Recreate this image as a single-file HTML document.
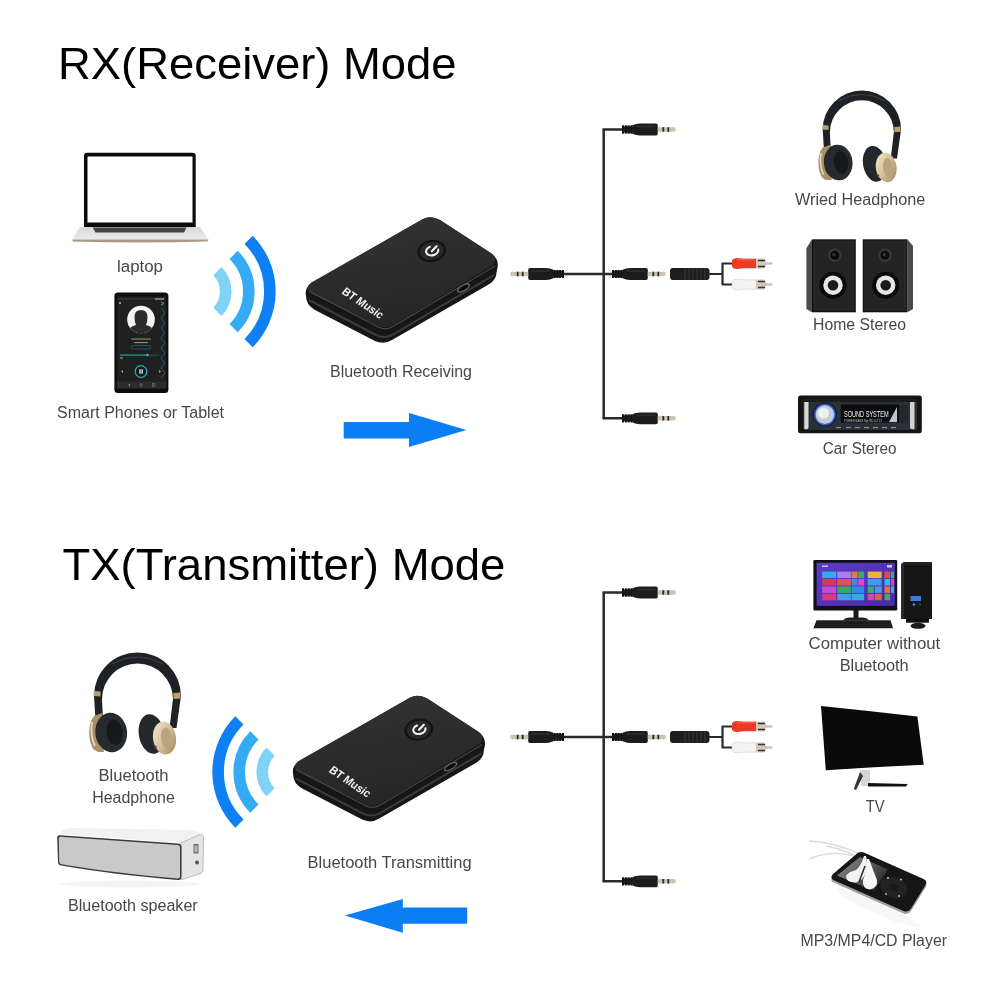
<!DOCTYPE html>
<html><head><meta charset="utf-8">
<style>
html,body{margin:0;padding:0;background:#fff;width:1002px;height:1002px;overflow:hidden}
svg{display:block;will-change:transform}
text{font-family:"Liberation Sans",sans-serif}
.t{font-size:45px;fill:#000}
.l{font-size:16px;fill:#474747}
</style></head><body>
<svg width="1002" height="1002" viewBox="0 0 1002 1002">
<defs>
  <!-- plug pointing right, origin at left of ribs, centre line y=0 -->
  <g id="plugR">
    <path d="M0 -3.9 H2 V3.9 H0 Z M2.8 -3.9 H4.8 V3.9 H2.8 Z M5.6 -3.9 H7.6 V3.9 H5.6 Z M8.4 -3.9 H10.6 V3.9 H8.4 Z" fill="#141414"/>
    <rect x="0" y="-3" width="11" height="6" fill="#262626"/>
    <path d="M1 -3.9 V3.9 M3.8 -3.9 V3.9 M6.6 -3.9 V3.9 M9.4 -3.9 V3.9" stroke="#121212" stroke-width="1.8"/>
    <path d="M10.5 -4.2 Q14 -5.9 18 -5.9 H34 Q35.8 -5.9 35.8 -4 V4 Q35.8 5.9 34 5.9 H18 Q14 5.9 10.5 4.2 Z" fill="#1c1c1c"/>
    <path d="M15 -3 H33" stroke="#333" stroke-width="1.2"/>
    <path d="M35.8 -2.2 H52 Q53.8 -2.2 53.8 0 Q53.8 2.2 52 2.2 H35.8 Z" fill="#cbc3b4"/>
    <path d="M41.3 -2.2v4.4M46.3 -2.2v4.4" stroke="#2a2a2a" stroke-width="1.8"/>
  </g>
  <g id="cables">
    <path d="M603.7 129.5 V418.3" stroke="#2a2a2a" stroke-width="2.5" fill="none"/>
    <path d="M602.5 129.5 H623 M602.5 418.3 H623 M564 274 H612" stroke="#2a2a2a" stroke-width="2.5" fill="none"/>
    <use href="#plugR" transform="translate(622,129.5)"/>
    <use href="#plugR" transform="translate(622,418.3)"/>
    <use href="#plugR" transform="translate(612,274)"/>
    <use href="#plugR" transform="translate(564,274) scale(-1,1)"/>
    <!-- female jack -->
    <rect x="670" y="268" width="39.5" height="12" rx="3" fill="#1e1e1e"/>
    <path d="M685 268.5v11M689 268.5v11M693 268.5v11M697 268.5v11M701 268.5v11M705 268.5v11" stroke="#353535" stroke-width="1.2"/>
    <path d="M709 274 H722.5 M722.5 263 V285 M722 263.5 H733 M722 284.5 H733" stroke="#2a2a2a" stroke-width="2.2" fill="none"/>
    <!-- red rca -->
    <path d="M732 260.5 Q733 258 737 258 L744 258.8 H756 V268.2 H744 L737 269 Q733 269 732 266.5 Z" fill="#ee3a22"/>
    <path d="M737 258.6 H755 V260.5 H737 Z" fill="#ff6a50" opacity="0.6"/>
    <path d="M756 258.5 H764 Q766 260 766 263.5 Q766 267 764 268.5 H756 Z" fill="#cfcac0"/>
    <path d="M758 260.5 H765 M758 266.5 H765" stroke="#3a2a20" stroke-width="1.3"/>
    <rect x="764" y="262.3" width="8.5" height="2.4" rx="1" fill="#c8c3b8"/>
    <!-- white rca -->
    <path d="M732 281.5 Q733 279 737 279 L744 279.8 H756 V289.2 H744 L737 290 Q733 290 732 287.5 Z" fill="#f2f2f2" stroke="#d0d0d0" stroke-width="0.6"/>
    <path d="M756 279.5 H764 Q766 281 766 284.5 Q766 288 764 289.5 H756 Z" fill="#cfcac0"/>
    <path d="M758 281.5 H765 M758 287.5 H765" stroke="#5a2a20" stroke-width="1.3"/>
    <rect x="764" y="283.3" width="8.5" height="2.4" rx="1" fill="#c8c3b8"/>
  </g>
  <g id="hphone">
    <linearGradient id="goldg" x1="0" y1="0" x2="1" y2="1"><stop offset="0" stop-color="#f4ecd8"/><stop offset="0.5" stop-color="#d4c098"/><stop offset="1" stop-color="#9c8458"/></linearGradient>
    <path d="M95.5 720 L94 696 A43.5 43.5 0 0 1 181 696 L176.5 728 H169.5 L173 699 A35.5 35.5 0 0 0 102 699 L103 720 Z" fill="#1e2226"/>
    <path d="M112 664 Q137.5 650 163 664" stroke="#40454a" stroke-width="1" fill="none"/>
    <path d="M93.8 691 L100.6 691.5 L100.4 696.5 L93.6 696 Z" fill="#b8a070"/>
    <path d="M173.4 693 L180.4 692.5 L180.6 698.5 L173.6 699 Z" fill="#b8a070"/>
    <path d="M94 716 Q88 723 89.5 738 Q91 750 98 752 L104 752 L102 713 Z" fill="#a89068"/>
    <path d="M92 722 Q90 736 95 746" stroke="#e8dcc0" stroke-width="1.8" fill="none"/>
    <ellipse cx="111.2" cy="732.5" rx="15.9" ry="19.8" transform="rotate(-6 111.2 732.5)" fill="#272b30"/>
    <ellipse cx="114.5" cy="732.3" rx="8" ry="12.8" transform="rotate(-6 114.5 732.3)" fill="#16191c"/>
    <ellipse cx="151.6" cy="734" rx="12.8" ry="20" transform="rotate(-10 151.6 734)" fill="#24282c"/>
    <ellipse cx="164.5" cy="738" rx="11.5" ry="16.5" transform="rotate(-8 164.5 738)" fill="url(#goldg)"/>
    <ellipse cx="166.5" cy="738" rx="5.5" ry="10.5" transform="rotate(-6 166.5 738)" fill="#b8a47e"/>
    <circle cx="155.5" cy="747" r="1.3" fill="#a02020"/>
  </g>
  <g id="btbox">
    <linearGradient id="topg" x1="0" y1="0" x2="0.3" y2="1">
      <stop offset="0" stop-color="#343434"/><stop offset="1" stop-color="#262626"/>
    </linearGradient>
    <path d="M306 296 Q304 286 314 282 L423 219 Q431 215 440 220 L492 254 Q500 260 497 270 L496 276 Q494 282 486 286 L392 340 Q384 345 375 341 L315 310 Q306 305 306 296 Z" fill="#161616"/>
    <path d="M309 300 L376 335 Q384 339 392 335 L494 275" stroke="#3c3c3c" stroke-width="2" fill="none"/>
    <path d="M308 290 Q307 284 314 281 L423 219 Q431 215 440 220 L491 253 Q498 258 493 265 L396 324 Q386 330 376 325 L316 296 Q309 293 308 290 Z" fill="url(#topg)"/>
    <path d="M309 291 L378 327 Q386 331 394 326 L495 266" stroke="#505050" stroke-width="1" fill="none"/>
    <ellipse cx="431.6" cy="251" rx="14.5" ry="11" transform="rotate(-10 431.6 251)" fill="#121212"/>
    <ellipse cx="431.6" cy="251" rx="12" ry="9" transform="rotate(-10 431.6 251)" fill="#2a2a2a"/>
    <path d="M429.8 246.9 A6.2 4.5 -15 1 0 438.3 249.6" stroke="#f4f4f4" stroke-width="2.1" fill="none" stroke-linecap="round"/>
    <path d="M431.8 251.2 L436.6 246.2" stroke="#f4f4f4" stroke-width="2.1" stroke-linecap="round"/>
    <ellipse cx="463.5" cy="288" rx="7.5" ry="3.2" transform="rotate(-31 463.5 288)" fill="#6a6a6a"/>
    <ellipse cx="463.5" cy="288" rx="6" ry="2" transform="rotate(-31 463.5 288)" fill="#0c0c0c"/>
    <text x="0" y="0" transform="translate(341,293) rotate(34) skewX(-6)" font-size="11.5" font-weight="bold" fill="#f4f4f4" textLength="47" lengthAdjust="spacingAndGlyphs">BT Music</text>
  </g>
</defs>

<!-- Titles -->
<text class="t" x="58" y="79" textLength="398.6" lengthAdjust="spacingAndGlyphs">RX(Receiver) Mode</text>
<text class="t" x="62.4" y="580.4" textLength="443" lengthAdjust="spacingAndGlyphs">TX(Transmitter) Mode</text>

<!-- ===== RX ===== -->
<!-- laptop -->
<path d="M84 227 V156 Q84 152.8 87 152.8 H192.7 Q195.7 152.8 195.7 156 V227 Z" fill="#0a0a0a"/>
<rect x="87.5" y="156.5" width="105" height="66" fill="#fff"/>
<linearGradient id="lapg" x1="0" y1="0" x2="0" y2="1"><stop offset="0" stop-color="#d8d8da"/><stop offset="1" stop-color="#ececee"/></linearGradient>
<path d="M80 227 H200 L208.5 239.5 H72 Z" fill="url(#lapg)"/>
<path d="M92.7 227.5 H186.5 L184 232.5 H95.5 Z" fill="#444446"/>
<path d="M72 239.5 H208.5 L207.5 241.5 Q140 243.5 73 241.5 Z" fill="#a89a82"/>
<text class="l" x="117" y="271.6" textLength="46" lengthAdjust="spacingAndGlyphs">laptop</text>

<!-- phone -->
<rect x="114.4" y="292.4" width="54" height="100.6" rx="3.5" fill="#0c0c0c"/>
<rect x="116.8" y="296.5" width="49.4" height="92" fill="#202020"/>
<rect x="118" y="298" width="47" height="2" fill="#2e2e2e"/>
<rect x="155" y="298.3" width="9" height="1.4" fill="#999"/>
<rect x="119" y="302" width="2" height="2" fill="#999"/>
<path d="M161 302 L164 303.5 L161 305" stroke="#999" stroke-width="0.8" fill="none"/>
<circle cx="141" cy="319.5" r="13.8" fill="#f6f6f6"/>
<clipPath id="avc"><circle cx="141" cy="319.5" r="13.8"/></clipPath>
<path clip-path="url(#avc)" d="M127 334 Q128 327 136 325 Q134.5 322 134.5 317 Q134.5 310 141 310 Q147.5 310 147.5 317 Q147.5 322 146 325 Q154 327 155 334 Z" fill="#2c2c2c"/>
<rect x="131" y="338.5" width="20" height="1.1" fill="#8c8c78"/>
<rect x="134" y="342" width="14" height="1.1" fill="#8c8c78"/>
<rect x="131.5" y="345.5" width="19" height="3.5" rx="1.7" fill="none" stroke="#1c6b78" stroke-width="0.7"/>
<rect x="120" y="354.5" width="27" height="1.2" fill="#1aa0b0"/>
<rect x="147" y="354.7" width="12" height="0.8" fill="#555"/>
<circle cx="147.5" cy="355" r="1.2" fill="#30d0e0"/>
<rect x="120" y="357.5" width="3" height="1" fill="#aaa"/>
<circle cx="141" cy="371.5" r="5.8" fill="#1a1a1a" stroke="#1fb0c0" stroke-width="1.3"/>
<rect x="139.3" y="369.3" width="1.4" height="4.4" fill="#e0e0e0"/>
<rect x="141.5" y="369.3" width="1.4" height="4.4" fill="#e0e0e0"/>
<path d="M121 371.5 L123 370 V373 Z M161 371.5 L159 370 V373 Z" fill="#9aa880"/>
<path d="M162 308 L164.5 313 L161.5 318 L164.5 323 L161.5 328 L164.5 333 L161 338 L165 343 L161 348 L165 353 L161 358 L165 363 L161 368 L165 373 L161 378" stroke="#1a6a78" stroke-width="1" fill="none" opacity="0.85"/>
<rect x="116.8" y="381.5" width="49.4" height="7" fill="#2c2c2c"/>
<path d="M128 385 L130 383.5 V386.5 Z" fill="#888"/>
<circle cx="141" cy="385" r="1.3" fill="none" stroke="#888" stroke-width="0.6"/>
<rect x="152.5" y="383.8" width="2.4" height="2.4" fill="none" stroke="#888" stroke-width="0.6"/>
<text class="l" x="57" y="418" textLength="167" lengthAdjust="spacingAndGlyphs">Smart Phones or Tablet</text>

<!-- arcs RX -->
<g fill="none" stroke-width="11.6">
  <path d="M217.4 271.1 A29.2 29.2 0 0 1 217.4 311.9" stroke="#7fd3f7"/>
  <path d="M233.6 254.9 A51.7 51.7 0 0 1 233.6 328.1" stroke="#35aaf5"/>
  <path d="M248.6 239.9 A73.2 73.2 0 0 1 248.6 343.1" stroke="#0d80f3"/>
</g>

<use href="#btbox"/>
<text class="l" x="330" y="376.6" textLength="142" lengthAdjust="spacingAndGlyphs">Bluetooth Receiving</text>
<path d="M343.7 421.9 H409 V412.9 L466.4 430 L409 447 V438.4 H343.7 Z" fill="#0b7ef4"/>

<use href="#cables"/>

<!-- wired headphone -->
<use href="#hphone" transform="matrix(0.901 0 0 0.901 738 -497.5)"/>
<text class="l" x="795" y="204.6" textLength="130.3" lengthAdjust="spacingAndGlyphs">Wried Headphone</text>

<!-- speakers -->
<g id="spkL">
  <path d="M806.4 248.3 L812 239.3 V312.3 L806.4 309 Z" fill="#4a4a4a"/>
  <rect x="812" y="239.3" width="43.8" height="73" fill="#141414"/>
  <rect x="814" y="241" width="40" height="69" fill="#242424" stroke="#2e2e2e" stroke-width="0.8"/>
  <circle cx="834.8" cy="255.2" r="6.6" fill="#3a3a3a"/>
  <circle cx="834.8" cy="255.2" r="4.6" fill="#0c0c0c"/>
  <circle cx="834" cy="254.5" r="1.5" fill="#3a3a3a"/>
  <circle cx="833" cy="285.2" r="16" fill="#242424"/>
  <circle cx="833" cy="285.2" r="13.5" fill="#0a0a0a"/>
  <circle cx="833" cy="285.2" r="9.7" fill="#e6e6e6"/>
  <circle cx="833" cy="285.2" r="5.3" fill="#1a1a1a"/>
</g>
<g>
  <path d="M907.4 239.3 L913 246 V309 L907.4 312.3 Z" fill="#4a4a4a"/>
  <rect x="862.7" y="239.3" width="44.7" height="73" fill="#141414"/>
  <rect x="864.7" y="241" width="40.7" height="69" fill="#242424" stroke="#2e2e2e" stroke-width="0.8"/>
  <circle cx="885" cy="255.2" r="6.6" fill="#3a3a3a"/>
  <circle cx="885" cy="255.2" r="4.6" fill="#0c0c0c"/>
  <circle cx="884.2" cy="254.5" r="1.5" fill="#3a3a3a"/>
  <circle cx="885.7" cy="285.2" r="16" fill="#242424"/>
  <circle cx="885.7" cy="285.2" r="13.5" fill="#0a0a0a"/>
  <circle cx="885.7" cy="285.2" r="9.7" fill="#e6e6e6"/>
  <circle cx="885.7" cy="285.2" r="5.3" fill="#1a1a1a"/>
</g>
<text class="l" x="813" y="329.8" textLength="93" lengthAdjust="spacingAndGlyphs">Home Stereo</text>

<!-- car stereo -->
<g>
  <rect x="798" y="395.6" width="123.8" height="37.6" rx="2.5" fill="#141414"/>
  <path d="M806 399.5 H914 Q917 400 917 404 V427 Q917 430 914 430 H806 Q803 430 803 427 V404 Q803 400 806 399.5 Z" fill="#2b3038"/>
  <path d="M804.3 401 Q807 400 808.5 402 V428 Q807 430 804.3 429 Z" fill="#d9d9d9"/>
  <path d="M910 402 Q912 400 914.5 401 V429 Q912 430 910 428 Z" fill="#d0d0d0"/>
  <rect x="803" y="399.5" width="114" height="2.5" fill="#1c1c1c"/>
  <circle cx="824.9" cy="414.6" r="12" fill="#151a2a"/>
  <circle cx="824.9" cy="414.6" r="10.8" fill="#2f5fd8"/>
  <circle cx="824.9" cy="414.6" r="9.3" fill="#c9ccd2"/>
  <circle cx="823.5" cy="413" r="5.5" fill="#eef0f3"/>
  <rect x="840.8" y="404.6" width="58.4" height="17.9" fill="#0b0c10"/>
  <text x="844" y="416.6" font-size="8.5" fill="#f0f0f0" textLength="44.6" lengthAdjust="spacingAndGlyphs">SOUND SYSTEM</text>
  <text x="844" y="421.5" font-size="3.6" fill="#cfcfcf" textLength="38" lengthAdjust="spacingAndGlyphs">POWER BASS  Rpt  RD  U-T12</text>
  <path d="M889 422 L897 407 V422 Z" fill="#bfc4cc"/>
  <rect x="900" y="405" width="8" height="18" fill="#22262d"/>
  <g fill="#8a8f98"><rect x="836" y="427" width="5" height="1.2"/><rect x="846" y="427" width="5" height="1.2"/><rect x="855" y="427" width="5" height="1.2"/><rect x="864" y="427" width="5" height="1.2"/><rect x="873" y="427" width="5" height="1.2"/><rect x="882" y="427" width="5" height="1.2"/><rect x="891" y="427" width="5" height="1.2"/></g>
</g>
<text class="l" x="822.8" y="453.5" textLength="73.8" lengthAdjust="spacingAndGlyphs">Car Stereo</text>

<!-- ===== TX ===== -->
<!-- headphone TX -->
<use href="#hphone"/>
<text class="l" x="98.5" y="780.5" textLength="70" lengthAdjust="spacingAndGlyphs">Bluetooth</text>
<text class="l" x="92.2" y="802.6" textLength="82.6" lengthAdjust="spacingAndGlyphs">Headphone</text>

<!-- BT speaker -->
<g>
  <ellipse cx="130" cy="884" rx="70" ry="3.5" fill="#f4f4f4"/>
  <path d="M60 834 Q62 828 72 828 L188 830 Q198 831 203 835 L183 843 Z" fill="#f1f1f1"/>
  <path d="M181 843 L199 835 Q203.5 834 203.5 838 L203 870 Q203 873 199 874 L181 880 Z" fill="#e4e4e4" stroke="#b0b0b0" stroke-width="0.8"/>
  <path d="M57.2 838 Q57 835 60 835.2 L178 843.6 Q181.5 844 181.5 847 V876.5 Q181.5 880.5 177.5 880 Q110 874 61 865.5 Q58 865 58 862 Z" fill="#3a3a3a"/>
  <path d="M58.8 838.5 Q58.8 836.6 60.6 836.7 L177.8 845 Q180 845.2 180 847.5 V876.5 Q180 878.8 177.6 878.6 Q110 872.5 61.5 864.2 Q59.2 863.8 59.2 861.6 Z" fill="#c9c9c9"/>
  <rect x="193.5" y="844" width="5" height="9.5" rx="0.5" fill="#6a6a6a"/>
  <rect x="194.5" y="845.5" width="3" height="6.5" fill="#bbb"/>
  <circle cx="197" cy="862.5" r="2" fill="#555"/>
</g>
<text class="l" x="68" y="911" textLength="129.7" lengthAdjust="spacingAndGlyphs">Bluetooth speaker</text>

<!-- arcs TX -->
<g fill="none" stroke-width="11.6">
  <path d="M270.6 751.6 A29.2 29.2 0 0 0 270.6 792.4" stroke="#7fd3f7"/>
  <path d="M254.4 735.4 A51.7 51.7 0 0 0 254.4 808.6" stroke="#35aaf5"/>
  <path d="M239.4 720.4 A73.2 73.2 0 0 0 239.4 823.6" stroke="#0d80f3"/>
</g>

<use href="#btbox" transform="translate(-12.8,478.6)"/>
<text class="l" x="307.6" y="867.5" textLength="164" lengthAdjust="spacingAndGlyphs">Bluetooth Transmitting</text>
<path d="M344.9 915.4 L402.8 898.9 V907.5 H467.2 V923.8 H402.8 V932.8 Z" fill="#0b7ef4"/>

<use href="#cables" transform="translate(0,463)"/>

<!-- computer -->
<g>
  <rect x="813.4" y="560" width="83.8" height="50.4" rx="1.2" fill="#111"/>
  <linearGradient id="scr" x1="0" y1="0" x2="1" y2="1"><stop offset="0" stop-color="#5a3cc8"/><stop offset="1" stop-color="#4a2aa8"/></linearGradient>
  <rect x="816.6" y="562.8" width="78.2" height="43.1" fill="url(#scr)"/>
  <rect x="822" y="565.5" width="6" height="1.5" fill="#c8c0f0"/>
  <rect x="887" y="565" width="5" height="2.5" fill="#d0c8f0"/>
  <g opacity="0.92">
    <rect x="822.2" y="571.6" width="14" height="6.5" fill="#30b8e8"/><rect x="837.3" y="571.6" width="13.6" height="6.5" fill="#b088e8"/><rect x="851.5" y="571.6" width="6" height="6.5" fill="#f08040"/><rect x="858.2" y="571.6" width="6" height="6.5" fill="#40b850"/><rect x="867.7" y="571.6" width="14" height="6.5" fill="#f8c030"/><rect x="884.5" y="571.6" width="5.5" height="6.5" fill="#e85040"/><rect x="891" y="571.6" width="3" height="6.5" fill="#40b860"/>
    <rect x="822.2" y="579" width="14" height="6.5" fill="#e83858"/><rect x="837.3" y="579" width="13.6" height="6.5" fill="#e85848"/><rect x="851.5" y="579" width="6" height="6.5" fill="#4090e0"/><rect x="858.2" y="579" width="6" height="6.5" fill="#e050c0"/><rect x="867.7" y="579" width="14" height="6.5" fill="#38a8e8"/><rect x="884.5" y="579" width="5.5" height="6.5" fill="#30c8d8"/><rect x="891" y="579" width="3" height="6.5" fill="#e850a0"/>
    <rect x="822.2" y="586.4" width="14" height="6.5" fill="#c850d8"/><rect x="837.3" y="586.4" width="13.6" height="6.5" fill="#30b858"/><rect x="851.5" y="586.4" width="12.7" height="6.5" fill="#3090f0"/><rect x="867.7" y="586.4" width="6.5" height="6.5" fill="#30b868"/><rect x="875" y="586.4" width="6.7" height="6.5" fill="#40a8e8"/><rect x="884.5" y="586.4" width="5.5" height="6.5" fill="#f07830"/><rect x="891" y="586.4" width="3" height="6.5" fill="#30c0d0"/>
    <rect x="822.2" y="593.8" width="14" height="6.5" fill="#e83878"/><rect x="837.3" y="593.8" width="13.6" height="6.5" fill="#40a8e8"/><rect x="851.5" y="593.8" width="12.7" height="6.5" fill="#30b8d8"/><rect x="867.7" y="593.8" width="6.5" height="6.5" fill="#e048a8"/><rect x="875" y="593.8" width="6.7" height="6.5" fill="#f06830"/><rect x="884.5" y="593.8" width="5.5" height="6.5" fill="#48b848"/>
  </g>
  <rect x="853.5" y="610" width="5" height="8" fill="#1a1a1a"/>
  <path d="M843 620.5 Q845 617.5 850 617.5 H862 Q867 617.5 869 620.5 Z" fill="#1e1e1e"/>
  <path d="M816.5 620.3 H890.5 L893 628.3 H813.4 Z" fill="#1a1a1a"/>
  <path d="M818 622 H889 M817 624.3 H890 M816 626.5 H891" stroke="#2e2e2e" stroke-width="0.6"/>
  <path d="M901.2 564 L904 562 H932 V619 H901.2 Z" fill="#161616"/>
  <path d="M901.2 564 L904 562 V619 H901.2 Z" fill="#2a2a2a"/>
  <path d="M904 562 H932 V565 H904 Z" fill="#222"/>
  <rect x="910.5" y="596" width="10.5" height="5" fill="#3a7ae0"/>
  <circle cx="914" cy="604.5" r="1.3" fill="#4a90e8"/>
  <circle cx="920" cy="604.5" r="0.9" fill="#555"/>
  <path d="M906 619 H929 V622.7 H906 Z" fill="#0e0e0e"/>
  <ellipse cx="918" cy="625.8" rx="7.5" ry="3" fill="#1a1a1a"/>
</g>
<text class="l" x="808.6" y="649.3" textLength="131.7" lengthAdjust="spacingAndGlyphs">Computer without</text>
<text class="l" x="839.7" y="671.4" textLength="69" lengthAdjust="spacingAndGlyphs">Bluetooth</text>

<!-- TV -->
<g>
  <path d="M821 706 Q870 711 917.4 716.5 L923.7 764.8 Q873 767 825.8 770.3 Z" fill="#0a0a0a"/>
  <path d="M860 770 H870 V786 H861 Z" fill="#d6d6d6"/>
  <path d="M860 772 L853.8 789 L856 790 L863 776 Z" fill="#333"/>
  <path d="M868 783 L907.6 784 L906 786.5 L868 786.5 Z" fill="#111"/>
</g>
<text class="l" x="865.7" y="811.6" textLength="18.8" lengthAdjust="spacingAndGlyphs">TV</text>

<!-- MP3 -->
<g>
  <ellipse cx="878" cy="908" rx="46" ry="6" transform="rotate(24 878 908)" fill="#f7f7f7"/>
  <path d="M809 841 Q835 842 864 856 M809 859 Q832 849 858 857 M826 846 Q850 850 868 864" stroke="#dcdcdc" stroke-width="1.5" fill="none"/>
  <path d="M857 856 Q860.5 853.5 865 855.5 L923.5 881.5 Q928 883.5 925.5 887.5 L911 911 Q908 915.5 903.5 913.5 L834.5 883 Q829.5 881 832.5 877 Z" fill="#a0a0a0"/>
  <path d="M857 853.5 Q860.5 851 865 853 L923.5 879 Q928 881 925.5 885 L911 908.5 Q908 913 903.5 911 L834.5 880.5 Q829.5 878.5 832.5 874.5 Z" fill="#161616"/>
  <linearGradient id="mpg" x1="0" y1="0" x2="1" y2="0.6"><stop offset="0" stop-color="#8a8a8a"/><stop offset="0.6" stop-color="#5a5a5a"/><stop offset="1" stop-color="#2a2a2a"/></linearGradient>
  <path d="M860 857 L888 869.5 L874 891 L837 875.5 Z" fill="url(#mpg)"/>
  <ellipse cx="894" cy="887.5" rx="14" ry="10.5" transform="rotate(25 894 887.5)" fill="#222"/>
  <ellipse cx="894" cy="887.5" rx="5" ry="3.8" transform="rotate(25 894 887.5)" fill="#1a1a1a"/>
  <g fill="#cfcfcf"><circle cx="888" cy="878" r="0.9"/><circle cx="901" cy="879.5" r="0.9"/><circle cx="886" cy="894" r="0.9"/><circle cx="899" cy="896" r="0.9"/></g>
  <path d="M864 856 Q861 866 856 870 Q848 872 846 876 Q846 883 856 882.5 Q863 881 866 872 Q868 862 866 856 Z" fill="#f2f2f2"/>
  <path d="M867 859 Q867 870 863 880 Q862 889 870 889.5 Q878 888 877 880 Q873 870 869 859 Z" fill="#f6f6f6"/>
  <path d="M865 866 L859 882" stroke="#2a2a2a" stroke-width="1.6"/>
</g>
<text class="l" x="800.5" y="946.4" textLength="146.5" lengthAdjust="spacingAndGlyphs">MP3/MP4/CD Player</text>
</svg>
</body></html>
